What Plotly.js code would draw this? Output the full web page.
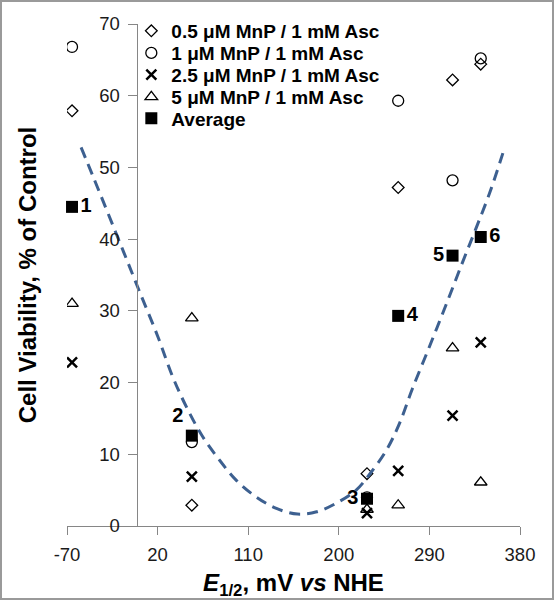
<!DOCTYPE html>
<html>
<head>
<meta charset="utf-8">
<script src="https://cdn.plot.ly/plotly-3.0.1.min.js"></script>
<style>
html,body{margin:0;padding:0;background:#fff;}
#wrap{position:relative;width:554px;height:600px;}
#chart{width:554px;height:600px;}
#frame{position:absolute;left:0;top:0;width:554px;height:600px;box-sizing:border-box;border:2px solid #9a9a9a;pointer-events:none;}
</style>
</head>
<body>
<div id="wrap"><div id="chart"></div><div id="frame"></div></div>
<script>
// E1/2 (mV vs NHE) of the six Mn porphyrins
const potentials = [-65, 54, 228, 259, 313, 341];
// Cell viability, % of control
const mnp05 = [57.9, 2.9, 7.3, 47.2, 62.2, 64.4];
const mnp1  = [66.8, 11.7, 4.0, 59.3, 48.2, 65.2];
const mnp25 = [22.8, 6.9, 1.8, 7.7, 15.4, 25.6];
const mnp5  = [31.0, 29.0, 2.3, 2.9, 24.8, 6.1];
const average = [44.5, 12.6, 3.8, 29.3, 37.7, 40.3];
const pointLabels = ['1', '2', '3', '4', '5', '6'];
const seriesNames = ['0.5 μM MnP / 1 mM Asc', '1 μM MnP / 1 mM Asc', '2.5 μM MnP / 1 mM Asc', '5 μM MnP / 1 mM Asc', 'Average'];
// dashed guide curve
const trendX = [-56, -44, -14, 2, 20, 35, 49, 65, 82, 98, 118, 138, 159, 178, 197, 217, 231, 247, 260, 273, 290, 307, 323, 336, 350, 363];
const trendY = [52.8, 48.7, 38.3, 32.7, 26.5, 20.8, 16.5, 12.4, 9.1, 6.4, 4.05, 2.45, 1.66, 1.98, 3.14, 4.98, 7.29, 10.5, 14.2, 19.1, 25.0, 31.0, 36.8, 41.4, 46.5, 52.0];
const xTicks = [-70, 20, 110, 200, 290, 380];
const yTicks = [0, 10, 20, 30, 40, 50, 60, 70];

const FONT = 'Liberation Sans, Arial, sans-serif';
const legendRows = [0.9862, 0.9421, 0.8987, 0.8546, 0.8118];
const legendIds = ['legend', 'legend2', 'legend3', 'legend4', 'legend5'];

const seriesValues = [mnp05, mnp1, mnp25, mnp5];
const markers = [
  {symbol: 'diamond-open', size: 9, color: '#000', line: {color: '#000', width: 1.3}},
  {symbol: 'circle-open', size: 11, color: '#000', line: {color: '#000', width: 1.3}},
  {symbol: 'x-thin-open', size: 10, color: '#000', line: {color: '#000', width: 2.5}},
  {symbol: 'triangle-up-open', size: 11, color: '#000', line: {color: '#000', width: 1.3}}
];

const traces = seriesValues.map((vals, i) => ({
  type: 'scatter', mode: 'markers', x: potentials, y: vals,
  name: seriesNames[i], marker: markers[i], legend: legendIds[i], hoverinfo: 'x+y'
}));

traces.push({
  type: 'scatter', mode: 'markers+text', x: potentials, y: average,
  name: seriesNames[4], legend: legendIds[4],
  marker: {symbol: 'square', size: 12, color: '#000'},
  text: pointLabels,
  textposition: ['middle right', 'top left', 'middle left', 'middle right', 'middle left', 'middle right'],
  textfont: {family: FONT, size: 20, color: '#000', weight: 'bold'},
  cliponaxis: false
});

traces.push({
  type: 'scatter', mode: 'lines', x: trendX, y: trendY, showlegend: false, hoverinfo: 'skip',
  line: {color: '#3d6090', width: 3, dash: '11px,7px', shape: 'spline'}
});

const layout = {
  width: 554, height: 600,
  margin: {l: 67, r: 34, t: 20, b: 74},
  paper_bgcolor: '#fff', plot_bgcolor: '#fff',
  font: {family: FONT, color: '#1a1a1a'},
  showlegend: true,
  xaxis: {
    range: [-70, 380], tickvals: xTicks, ticktext: xTicks.map(String),
    showgrid: false, zeroline: false, showline: true, linecolor: '#868686', linewidth: 1,
    ticks: 'outside', ticklen: 8, tickcolor: '#868686', ticklabelstandoff: 4,
    tickfont: {size: 18.5, color: '#1a1a1a'}, automargin: false,
    title: {text: '<i>E</i><sub>1/2</sub>, mV <i>vs</i> NHE', font: {size: 24, weight: 'bold', color: '#000'}, standoff: 14}
  },
  yaxis: {
    range: [0, 70], tickvals: yTicks, ticktext: yTicks.map(String),
    anchor: 'free', position: 70 / 450,
    showgrid: false, zeroline: false, showline: true, linecolor: '#868686', linewidth: 1,
    ticks: 'outside', ticklen: 9, tickcolor: '#868686', ticklabelstandoff: 5,
    tickfont: {size: 18.5, color: '#1a1a1a'}, automargin: false,
    title: {text: 'Cell Viability, % of Control', font: {size: 24, weight: 'bold', color: '#000'}, standoff: 54}
  }
};

legendIds.forEach((id, i) => {
  layout[id] = {
    x: 0.142, xanchor: 'left', y: legendRows[i], yanchor: 'middle',
    bgcolor: 'rgba(0,0,0,0)', borderwidth: 0,
    font: {family: FONT, size: 19, color: '#000', weight: 'bold'}
  };
});

Plotly.newPlot('chart', traces, layout, {displayModeBar: false, staticPlot: true});
</script>
</body>
</html>
